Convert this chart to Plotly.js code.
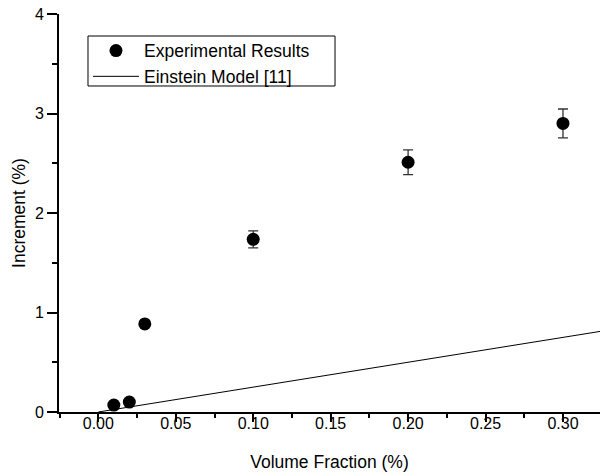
<!DOCTYPE html>
<html>
<head>
<meta charset="utf-8">
<script src="https://cdn.plot.ly/plotly-3.0.1.min.js"></script>
<style>html,body{margin:0;padding:0;background:#fff;}#chart{width:600px;height:476px;}</style>
</head>
<body>
<div id="chart"></div>
<script>
const expX = [0.01, 0.02, 0.03, 0.10, 0.20, 0.30];
const expY = [0.07, 0.10, 0.885, 1.735, 2.51, 2.90];
const expErr = [0, 0, 0, 0.085, 0.125, 0.145];
const modelX = [0, 0.33];
const modelY = [0, 0.825];
const xTickVals = [0, 0.05, 0.10, 0.15, 0.20, 0.25, 0.30];
const xTickText = ['0.00', '0.05', '0.10', '0.15', '0.20', '0.25', '0.30'];
const yTickVals = [0, 1, 2, 3, 4];

const font = 'Liberation Sans, Arial, sans-serif';
const xRange = [-0.0254, 0.3239];

const traces = [
  {
    x: expX, y: expY, type: 'scatter', mode: 'markers', name: 'Experimental Results',
    marker: {color: '#000', size: 13},
    error_y: {type: 'data', array: expErr, visible: true, color: '#333', thickness: 1.3, width: 5}
  },
  {
    x: modelX, y: modelY, type: 'scatter', mode: 'lines', name: 'Einstein Model [11]',
    xaxis: 'x2', yaxis: 'y',
    line: {color: '#000', width: 1}
  }
];

const layout = {
  width: 600, height: 476,
  margin: {l: 59, r: 0, t: 14, b: 64},
  paper_bgcolor: '#fff', plot_bgcolor: '#fff',
  font: {family: font, color: '#000', size: 16},
  showlegend: true,
  legend: {
    x: 0.0536, y: 0.953, xanchor: 'left', yanchor: 'top',
    borderwidth: 0, bgcolor: 'rgba(0,0,0,0)',
    font: {family: font, size: 17.5, color: '#000'},
    itemwidth: 46, tracegroupgap: 0
  },
  shapes: [
    {type: 'rect', xref: 'paper', yref: 'paper', x0: 0.0536, x1: 0.5102, y0: 0.8191, y1: 0.9447,
     line: {color: '#000', width: 1}, fillcolor: 'rgba(0,0,0,0)', layer: 'above'}
  ],
  xaxis: {
    range: xRange,
    tickvals: xTickVals,
    showticklabels: false,
    ticks: 'outside', ticklen: 8, tickwidth: 2, tickcolor: '#000',
    minor: {dtick: 0.025, ticks: 'outside', ticklen: 4, tickwidth: 2, tickcolor: '#000', showgrid: false},
    showline: true, linecolor: '#000', linewidth: 2,
    showgrid: false, zeroline: false
  },
  xaxis2: {
    overlaying: 'x', anchor: 'y', side: 'bottom',
    range: xRange,
    tickvals: xTickVals, ticktext: xTickText,
    ticks: '', showline: false, showgrid: false, zeroline: false,
    tickfont: {family: font, size: 16, color: '#000'},
    title: {text: 'Volume Fraction (%)', font: {family: font, size: 17.5, color: '#000'}, standoff: 24}
  },
  yaxis: {
    range: [0, 4],
    tickvals: yTickVals,
    ticks: 'outside', ticklen: 10, tickwidth: 2, tickcolor: '#000',
    minor: {dtick: 0.5, ticks: 'outside', ticklen: 5, tickwidth: 2, tickcolor: '#000', showgrid: false},
    showline: true, linecolor: '#000', linewidth: 2,
    showgrid: false, zeroline: false,
    tickfont: {family: font, size: 16, color: '#000'},
    title: {text: 'Increment (%)', font: {family: font, size: 17.5, color: '#000'}, standoff: 5}
  }
};

Plotly.newPlot('chart', traces, layout, {displayModeBar: false, staticPlot: true});
</script>
</body>
</html>
